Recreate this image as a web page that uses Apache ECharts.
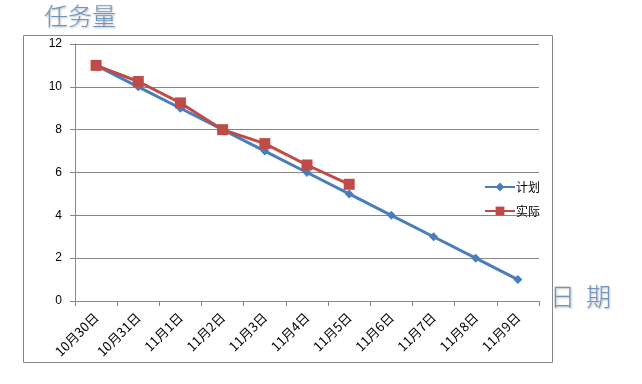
<!DOCTYPE html>
<html><head><meta charset="utf-8">
<script src="https://cdn.jsdelivr.net/npm/echarts@6/dist/echarts.min.js"></script>
<style>html,body{margin:0;padding:0;background:#fff}#c{width:642px;height:384px}</style>
</head><body><div id="c"></div>
<script>
var categories = ['10月30日','10月31日','11月1日','11月2日','11月3日','11月4日','11月5日','11月6日','11月7日','11月8日','11月9日'];
var planned = [11,10,9,8,7,6,5,4,3,2,1];
var actual = [11,10.25,9.25,8,7.35,6.35,5.45];
var yTicks = [0,2,4,6,8,10,12];

var chart = echarts.init(document.getElementById('c'));
chart.setOption({
  animation:false,
  backgroundColor:'#fff',
  graphic:[
    {type:'rect', shape:{x:23.5,y:35.5,width:529,height:327}, style:{fill:null, stroke:'#868686', lineWidth:1}, z:-1},
    {type:'text', left:44, top:4, style:{text:'任务量', font:'300 24px "Noto Sans CJK SC"', fill:'#7393b8', textShadowColor:'rgba(60,80,110,0.4)', textShadowOffsetX:1, textShadowOffsetY:1, textShadowBlur:2}},
    {type:'text', left:550, top:284, style:{text:'日  期', font:'300 25px "Noto Sans CJK SC"', fill:'#7393b8', textShadowColor:'rgba(60,80,110,0.4)', textShadowOffsetX:1, textShadowOffsetY:1, textShadowBlur:2}}
  ],
  grid:{left:75, top:44, width:464, height:257, containLabel:false},
  legend:{
    orient:'vertical', left:479, top:176, itemGap:12, itemWidth:30, itemHeight:11,
    textStyle:{fontSize:12, color:'#000', fontFamily:'"Noto Sans CJK SC"', padding:[0,0,0,-4]},
    data:['计划','实际']
  },
  xAxis:{
    type:'category', data:categories, boundaryGap:true,
    axisLine:{lineStyle:{color:'#868686', width:1}},
    axisTick:{show:true, length:5, lineStyle:{color:'#868686'}},
    axisLabel:{rotate:45, fontSize:13, color:'#000', margin:14, fontFamily:'"Noto Sans CJK SC"'},
    splitLine:{show:false}
  },
  yAxis:{
    type:'value', min:0, max:12, interval:2,
    axisLine:{show:true, lineStyle:{color:'#868686', width:1}},
    axisTick:{show:true, length:5, lineStyle:{color:'#868686'}},
    axisLabel:{fontSize:12, color:'#000', margin:13, fontFamily:'"Liberation Sans"'},
    splitLine:{show:true, lineStyle:{color:'#868686', width:1}}
  },
  series:[
    {name:'计划', type:'line', data:planned, symbol:'diamond', symbolSize:9,
      lineStyle:{color:'#4a7ebb', width:3}, itemStyle:{color:'#4a7ebb'}, z:2},
    {name:'实际', type:'line', data:actual, symbol:'rect', symbolSize:11,
      lineStyle:{color:'#be4b48', width:3}, itemStyle:{color:'#be4b48'}, z:3}
  ]
});
</script></body></html>
